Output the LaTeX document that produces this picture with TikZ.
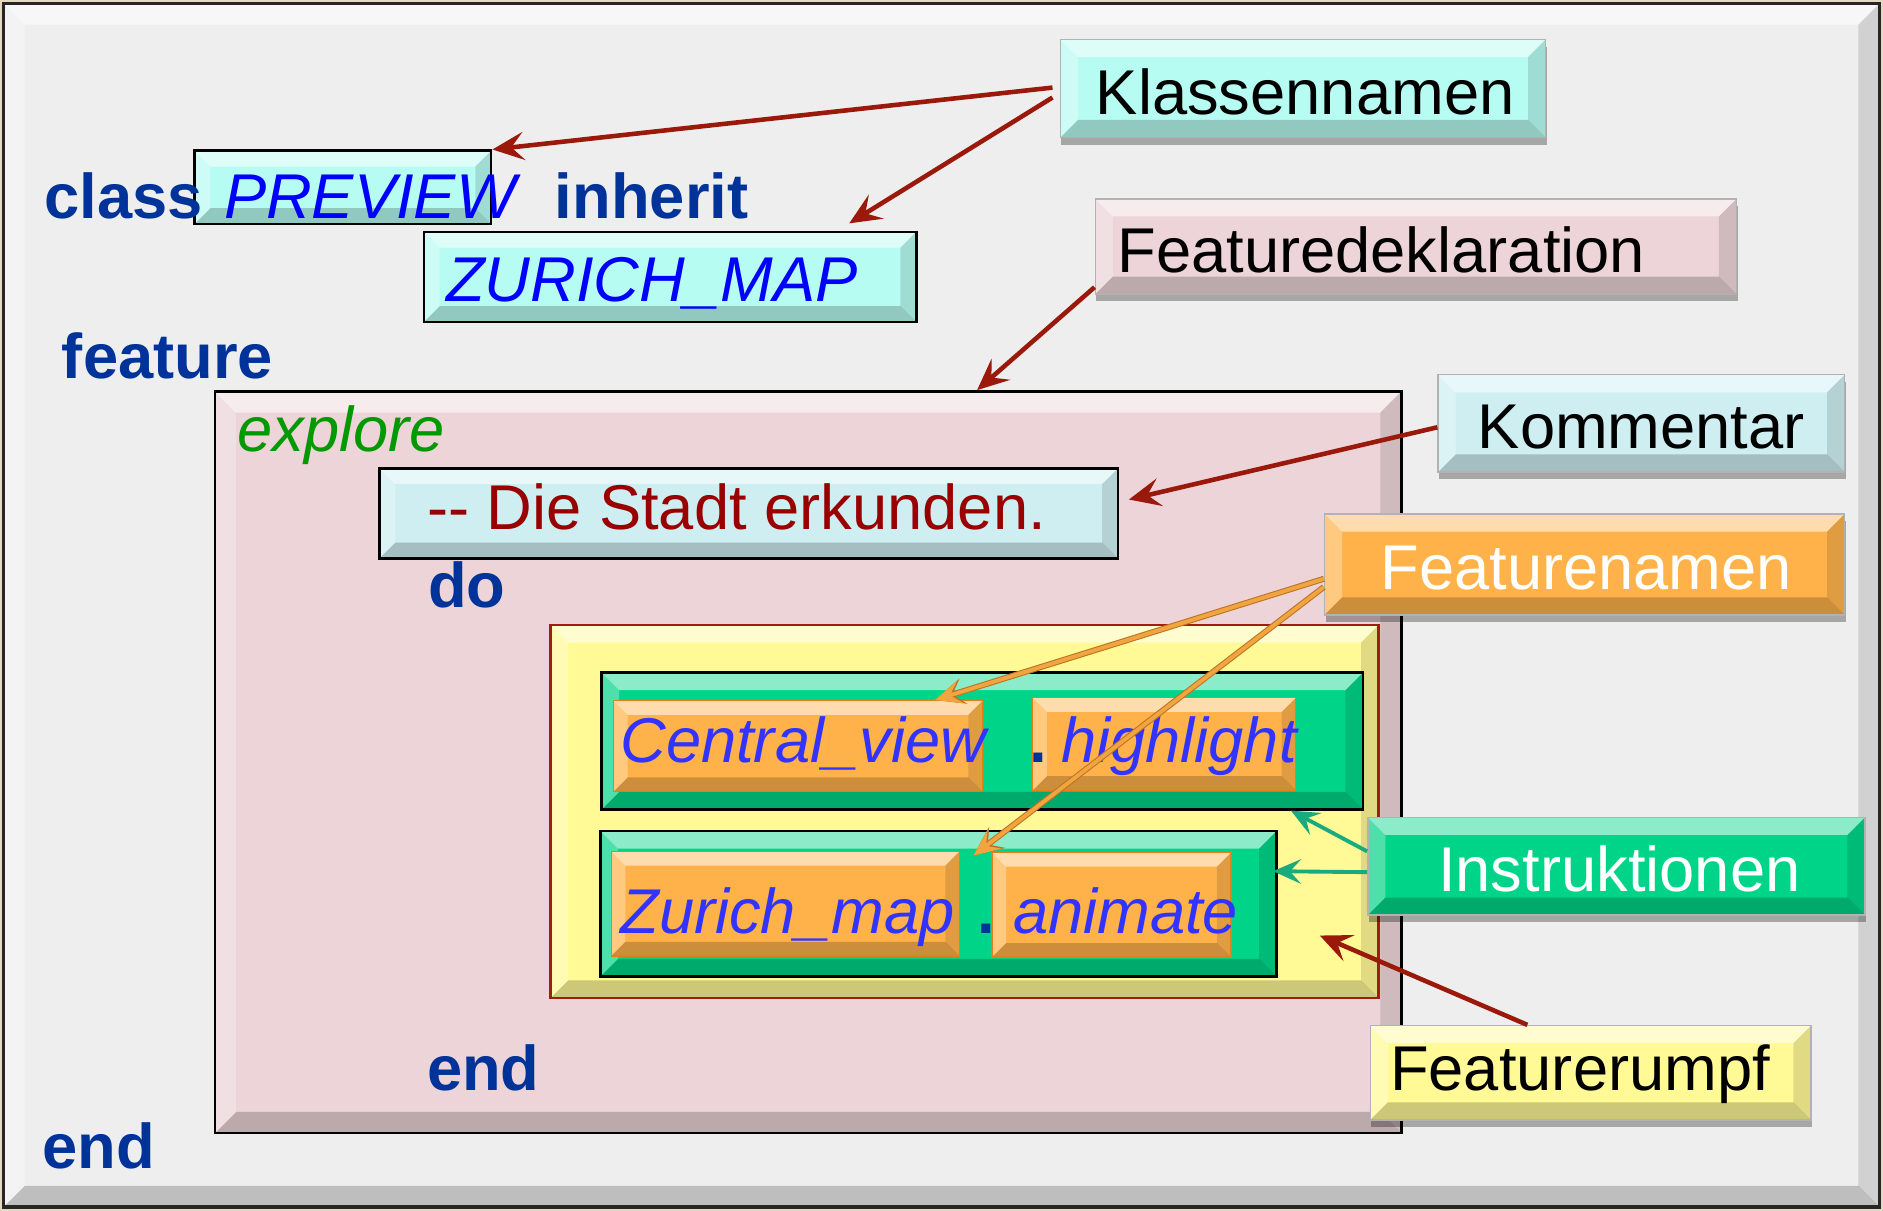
\documentclass[tikz,border=0pt]{standalone}
\usepackage{fontspec}
\setmainfont{Liberation Sans}
% comment text keeps its two hyphens (no TeX ligatures in this family)
\newfontfamily\cmtfont{Liberation Sans}
\usetikzlibrary{arrows.meta,calc,fit,shadows}

\definecolor{pagebeige}{RGB}{228,216,194}
\definecolor{framegray}{RGB}{238,238,238}
\definecolor{kwblue}{RGB}{0,51,153}
\definecolor{clsblue}{RGB}{0,0,255}
\definecolor{featblue}{RGB}{51,51,255}
\definecolor{exgreen}{RGB}{0,153,0}
\definecolor{cmtred}{RGB}{153,0,0}
\definecolor{aqua}{RGB}{182,252,242}
\definecolor{paleblue}{RGB}{206,238,242}
\definecolor{rose}{RGB}{236,212,216}
\definecolor{lemon}{RGB}{255,250,150}
\definecolor{mint}{RGB}{0,212,136}
\definecolor{apricot}{RGB}{255,178,74}
\definecolor{arrowred}{RGB}{155,25,10}
\definecolor{arroworange}{RGB}{240,165,65}
\definecolor{arroworangerim}{RGB}{190,115,35}
\definecolor{arrowgreen}{RGB}{25,170,125}
\definecolor{bodyrim}{RGB}{160,30,15}

\tikzset{
  fs/.style={font=\fontsize{18}{21}\selectfont #1},
  txt/.style={inner sep=0pt, anchor=base west},
  kw/.style={txt, text=kwblue, fs=\bfseries},
  cls/.style={txt, text=clsblue, fs=\itshape},
  fname/.style={txt, text=featblue, fs=\itshape},
  lbl/.style={txt, text=black, fs=},
  bevel/.style={path picture={
    \path (path picture bounding box.north west) coordinate (bvnw)
          (path picture bounding box.north east) coordinate (bvne)
          (path picture bounding box.south east) coordinate (bvse)
          (path picture bounding box.south west) coordinate (bvsw);
    \fill[white,opacity=.55] (bvnw) -- (bvne) -- ([shift={(-#1,-#1)}]bvne) -- ([shift={(#1,-#1)}]bvnw) -- cycle;
    \fill[black,opacity=.2] (bvsw) -- (bvse) -- ([shift={(-#1,#1)}]bvse) -- ([shift={(#1,#1)}]bvsw) -- cycle;
    \fill[white,opacity=.3] (bvnw) -- ([shift={(#1,-#1)}]bvnw) -- ([shift={(#1,#1)}]bvsw) -- (bvsw) -- cycle;
    \fill[black,opacity=.12] (bvne) -- ([shift={(-#1,-#1)}]bvne) -- ([shift={(-#1,#1)}]bvse) -- (bvse) -- cycle;
  }},
  codebox/.style={inner sep=0pt, draw=black, line width=.7pt, bevel=4.5pt},
  namebox/.style={inner sep=0pt, draw=orange!60!brown, line width=.4pt, fill=apricot, bevel=4pt},
  tag/.style={inner sep=0pt, draw=gray!60, line width=.4pt, bevel=5pt,
    drop shadow={shadow xshift=.3pt, shadow yshift=-2pt, opacity=.3, fill=black}},
  redarrow/.style={draw=arrowred, line width=1.3pt, -{Stealth[length=9pt,width=8pt,inset=3.6pt]}},
  orangearrow/.style={draw=arroworange, line width=1.1pt,
    preaction={draw=arroworangerim, line width=1.7pt, -{Stealth[length=8.4pt,width=7.4pt,inset=3.2pt]}},
    -{Stealth[length=7.5pt,width=6.5pt,inset=3pt]}},
  greenarrow/.style={draw=arrowgreen, line width=1.1pt, -{Stealth[length=8pt,width=7pt,inset=3.2pt]}},
}

\begin{document}
\begin{tikzpicture}[x=0.012009cm, y=-0.012009cm]
  \fill[pagebeige] (0,0) rectangle (1568,1008.4);
  \useasboundingbox (0,0) rectangle (1568,1008.4);

  % slide frame
  \node[inner sep=0pt, draw=black!85, line width=1pt, fill=framegray, bevel=6pt,
        fit={(3,3) (1565,1005)}] (frame) {};

  % class header
  \node[codebox, fill=aqua, fit={(162,125.5) (409,186.5)}] (prev) {};
  \node[codebox, fill=aqua, fit={(353,193) (763,268)}] (zmap) {};

  % feature declaration
  \node[codebox, line width=.8pt, fill=rose, bevel=6pt, fit={(179,326) (1167,943.5)}] (expl) {};
  \node[codebox, fill=paleblue, fit={(316,390) (931,465)}] (comm) {};

  % feature body with its two instructions
  \node[inner sep=0pt, draw=bodyrim, line width=.7pt, fill=lemon, bevel=5pt,
        fit={(458.5,520.5) (1148,831)}] (body) {};
  \node[codebox, fill=mint, bevel=5pt, fit={(501,560) (1135,674)}] (ins1) {};
  \node[codebox, fill=mint, bevel=5pt, fit={(500,692) (1063,813)}] (ins2) {};
  \node[namebox, fit={(511,583.5) (818,659)}] (cv) {};
  \node[namebox, fit={(860,581) (1079,658)}] (hl) {};
  \node[namebox, fit={(509,709) (799,796)}] (zm) {};
  \node[namebox, fit={(826,710) (1025,797)}] (an) {};

  % code text
  \node[kw] (tclass) at (36.7,182) {class};
  \node[cls] (tprev) at (186,182) {PREVIEW};
  \node[kw] (tinh) at (461.5,182) {inherit};
  \node[cls] (tzmap) at (371,251) {ZURICH\_MAP};
  \node[kw] (tfeat) at (51,315) {feature};
  \node[txt, text=exgreen, fs=\itshape] (texpl) at (197,376) {explore};
  \node[txt, text=cmtred, fs=\cmtfont] (tcomm) at (355,441) {-- Die Stadt erkunden.};
  \node[kw] (tdo) at (356,506) {do};
  \node[fname] (tcv) at (516,635) {Central\_view};
  \node[kw] (tdot1) at (857,635) {.};
  \node[fname] (thl) at (883,635) {highlight};
  \node[fname] (tzm) at (516,777) {Zurich\_map};
  \node[kw] (tdot2) at (813,777) {.};
  \node[fname] (tan) at (843,777) {animate};
  \node[kw] (tend1) at (355,908) {end};
  \node[kw] (tend2) at (35,973) {end};

  % annotation tags
  \node[tag, fill=aqua, fit={(883,33) (1287,114.5)}] (klass) {};
  \node[tag, fill=rose, fit={(912,165.6) (1446,245)}] (fdecl) {};
  \node[tag, fill=paleblue, fit={(1197.5,312) (1536,393)}] (komm) {};
  \node[tag, fill=apricot, fit={(1103,428) (1536,512)}] (fnam) {};
  \node[tag, fill=mint, fit={(1139,680.6) (1553,762)}] (instr) {};
  \node[tag, fill=lemon, fit={(1141,854) (1508,932.6)}] (rumpf) {};

  \node[lbl] at (912,95.5) {Klassennamen};
  \node[lbl] at (930,226.5) {Featuredeklaration};
  \node[lbl] at (1230,373.8) {Kommentar};
  \node[txt, text=white, fs=] at (1149,490.8) {Featurenamen};
  \node[txt, text=white, fs=] at (1197,742) {Instruktionen};
  \node[lbl] at (1157,907.7) {Featurerumpf};

  % connectors
  \draw[redarrow] ($(klass.north west)!0.49!(klass.south west)+(-6,0)$) -- (prev.north east);
  \draw[redarrow] ($(klass.north west)!0.59!(klass.south west)+(-6,0)$) -- ($(zmap.north west)!0.862!(zmap.north east)+(0,-6)$);
  \draw[redarrow] ($(fdecl.north west)!0.92!(fdecl.south west)$) -- ($(expl.north west)!0.642!(expl.north east)$);
  \draw[redarrow] ($(komm.north west)!0.54!(komm.south west)$) -- ($(comm.north east)!0.35!(comm.south east)+(8,0)$);
  \draw[orangearrow] ($(fnam.north west)!0.64!(fnam.south west)$) -- ($(cv.north west)!0.87!(cv.north east)$);
  \draw[orangearrow] ($(fnam.north west)!0.72!(fnam.south west)$) -- ($(zm.north east)+(11,4)$);
  \draw[greenarrow] ($(instr.north west)!0.35!(instr.south west)$) -- ($(ins1.south west)!0.904!(ins1.south east)$);
  \draw[greenarrow] ($(instr.north west)!0.56!(instr.south west)$) -- ($(ins2.north east)!0.28!(ins2.south east)+(-4,0)$);
  \draw[redarrow] ($(rumpf.north west)!0.357!(rumpf.north east)$) -- ($(body.south east)+(-50,-53)$);
\end{tikzpicture}
\end{document}
